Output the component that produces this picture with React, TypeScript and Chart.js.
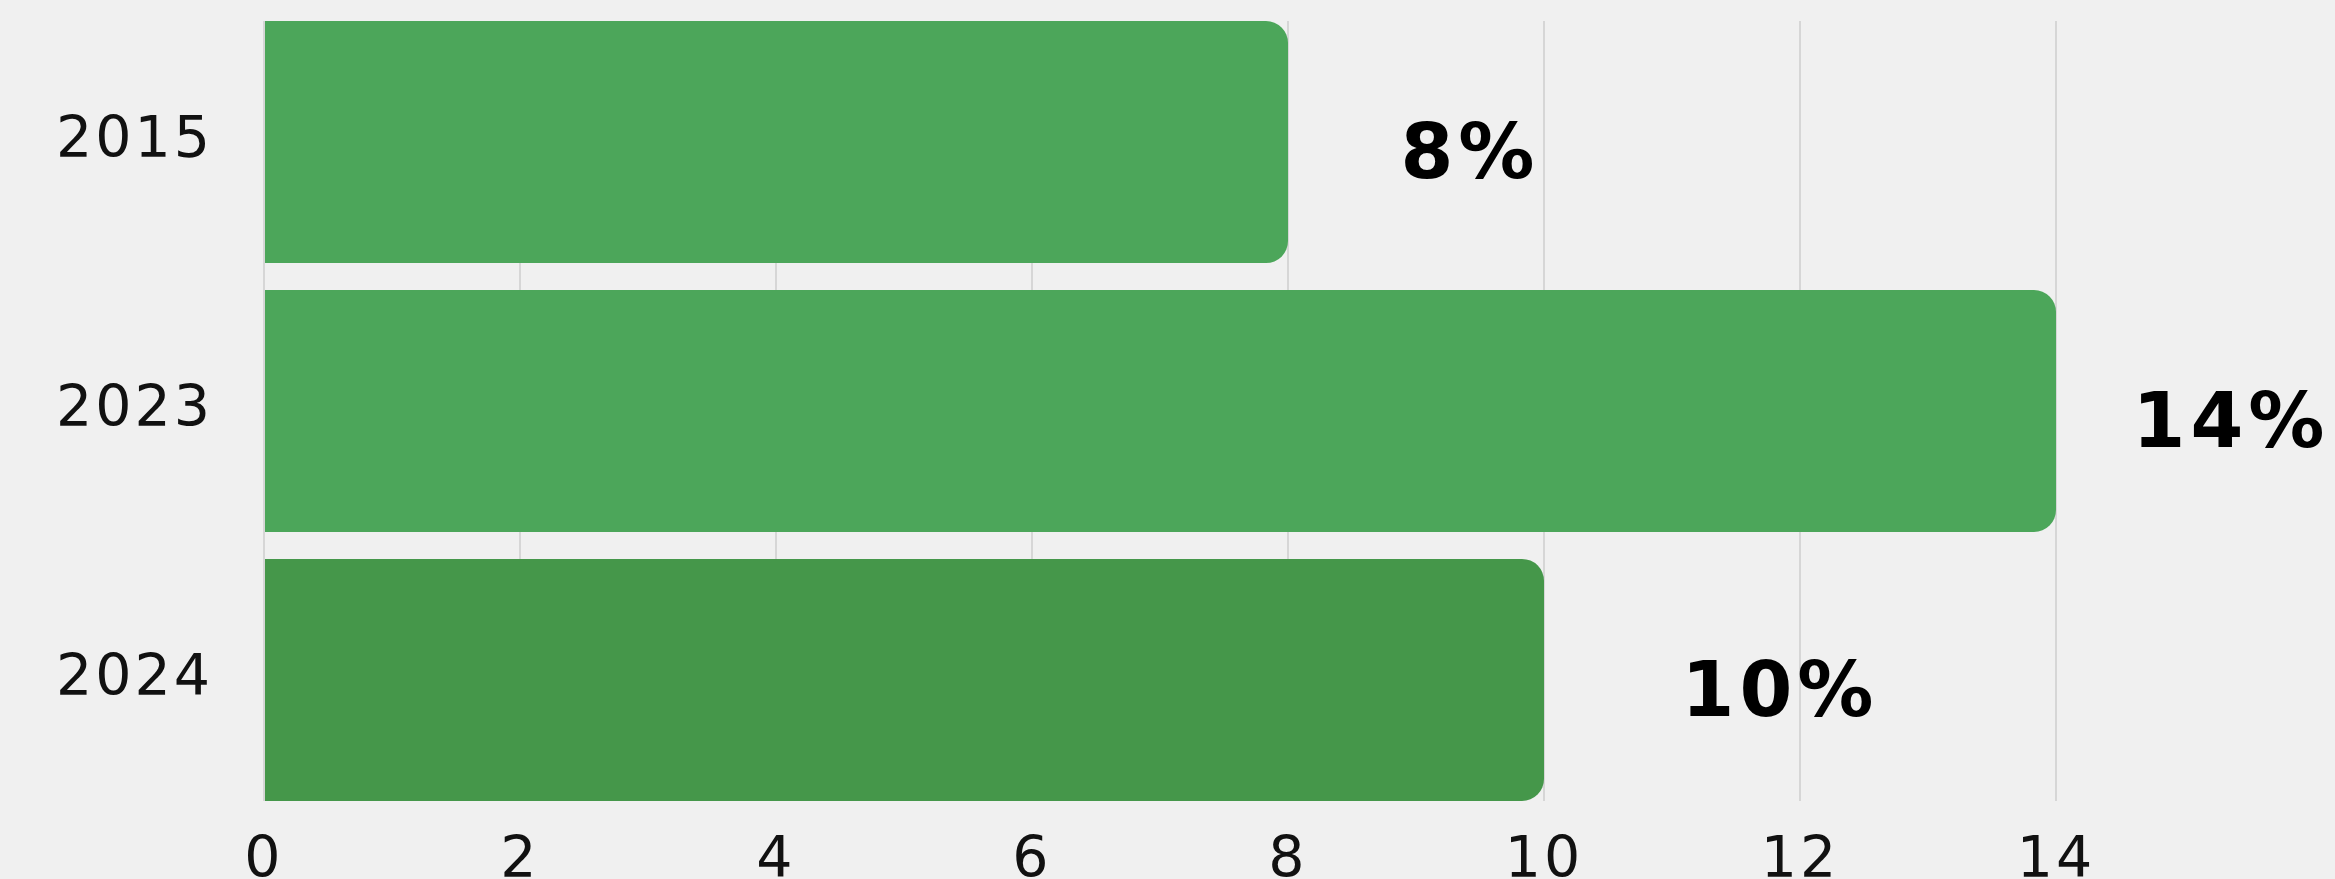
import React, { useEffect, useRef } from "react";
import { Chart, registerables } from "chart.js";

Chart.register(...registerables);

// ---- data ----
const categories = ["2015", "2023", "2024"];
const values = [8, 14, 10];
const valueLabels = ["8%", "14%", "10%"];

// ---- styles ----
const barColors = ["#4ca65a", "#4ca65a", "#45974a"];
const labelCenterOffsets = [182, 175, 236];
const FONT = "'DejaVu Sans', sans-serif";

const spacingPlugin = {
  id: "tickSpacing",
  beforeDraw(chart: any) {
    (chart.ctx as any).letterSpacing = "3px";
  },
};

const valueLabelPlugin = {
  id: "valueLabels",
  afterDatasetsDraw(chart: any) {
    const ctx = chart.ctx;
    const meta = chart.getDatasetMeta(0);
    ctx.save();
    ctx.letterSpacing = "5px";
    ctx.font = `bold 76px ${FONT}`;
    ctx.fillStyle = "#000000";
    ctx.textAlign = "center";
    ctx.textBaseline = "middle";
    meta.data.forEach((el: any, i: number) => {
      ctx.fillText(valueLabels[i], el.x + labelCenterOffsets[i], el.y + 16);
    });
    ctx.restore();
  },
};

export default function App() {
  const canvasRef = useRef<HTMLCanvasElement | null>(null);

  useEffect(() => {
    document.body.style.background = "#f0f0f0";
    const canvas = canvasRef.current;
    if (!canvas) return;
    const chart = new Chart(canvas, {
      type: "bar",
      data: {
        datasets: [
          {
            data: values.map((v, i) => ({ x: v, y: i })),
            backgroundColor: barColors,
            borderRadius: 22,
            borderSkipped: "start",
            barPercentage: 0.9,
            categoryPercentage: 1.0,
          },
        ],
      },
      options: {
        indexAxis: "y",
        animation: false,
        responsive: true,
        maintainAspectRatio: false,
        layout: { padding: { top: 13, right: 15, bottom: 0, left: 0 } },
        plugins: {
          legend: { display: false },
          tooltip: { enabled: false },
        },
        scales: {
          x: {
            type: "linear",
            min: 0,
            max: 16,
            ticks: {
              stepSize: 2,
              padding: 27,
              color: "#111111",
              font: { family: FONT, size: 57 },
            },
            afterBuildTicks: (axis: any) => {
              axis.ticks = axis.ticks.filter((t: any) => t.value <= 14);
            },
            afterFit: (s: any) => {
              s.height = 78;
              s.paddingLeft = 0;
              s.paddingRight = 0;
            },
            grid: { color: "#d6d6d6", lineWidth: 2, drawTicks: false },
            border: { display: false },
          },
          y: {
            type: "linear",
            offset: false,
            reverse: true,
            min: -0.45,
            max: 2.45,
            afterBuildTicks: (axis: any) => {
              axis.ticks = categories.map((_, i) => ({ value: i }));
            },
            ticks: {
              padding: 51,
              color: "#111111",
              font: { family: FONT, size: 57 },
              callback: (v: any) => categories[Math.round(Number(v))] ?? "",
            },
            afterFit: (s: any) => {
              s.width = 256;
              s.paddingTop = 0;
              s.paddingBottom = 0;
            },
            grid: { display: false, drawTicks: false },
            border: { display: false },
          },
        },
      },
      plugins: [spacingPlugin, valueLabelPlugin],
    } as any);
    return () => chart.destroy();
  }, []);

  return (
    <div style={{ position: "relative", height: "871px", background: "#f0f0f0" }}>
      <canvas ref={canvasRef} />
    </div>
  );
}
